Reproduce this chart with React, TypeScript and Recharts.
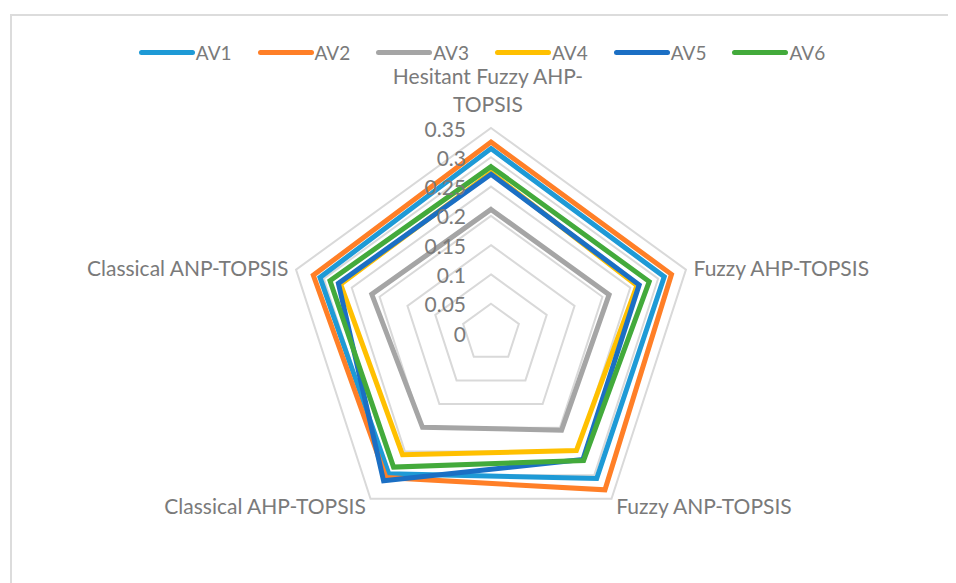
import { RadarChart, Radar, PolarGrid, PolarAngleAxis, PolarRadiusAxis, Legend } from 'recharts';

const categories = [
    'Hesitant Fuzzy AHP-TOPSIS',
    'Fuzzy AHP-TOPSIS',
    'Fuzzy ANP-TOPSIS',
    'Classical AHP-TOPSIS',
    'Classical ANP-TOPSIS',
];

const av1 = [0.315, 0.311, 0.307, 0.297, 0.307];
const av2 = [0.326, 0.324, 0.331, 0.305, 0.319];
const av3 = [0.211, 0.212, 0.205, 0.199, 0.214];
const av4 = [0.274, 0.262, 0.248, 0.257, 0.27];
const av5 = [0.271, 0.266, 0.267, 0.312, 0.274];
const av6 = [0.284, 0.284, 0.269, 0.283, 0.289];

const radiusTicks = [0, 0.05, 0.1, 0.15, 0.2, 0.25, 0.3, 0.35];

const seriesNames = ['AV1', 'AV2', 'AV3', 'AV4', 'AV5', 'AV6'];
const seriesColors = ['#1E9AD6', '#FF7F27', '#A5A5A5', '#FFC000', '#1B6FC4', '#43AA3B'];
const seriesValues = [av1, av2, av3, av4, av5, av6];

const data = categories.map((name, i) => {
    const row: Record<string, string | number> = { subject: name };
    seriesNames.forEach((s, j) => {
        row[s] = seriesValues[j][i];
    });
    return row;
});

const TEXT = '#7a7a7a';
const FONT = 'Lato, "Open Sans", sans-serif';
const OUTER = 205;
const MAX = radiusTicks[radiusTicks.length - 1];

const formatTick = (v: number) => String(Number(v.toFixed(2)));

function RadiusTick(props: any) {
    const { x, y, payload } = props;
    return (
        <text x={x - 25} y={y} textAnchor="end" dominantBaseline="central" fill={TEXT} fontSize={21} fontFamily={FONT}>
            {formatTick(payload.value)}
        </text>
    );
}

function AngleTick(props: any) {
    const { x, y, payload, textAnchor } = props;
    const label: string = payload.value;
    if (label === 'Hesitant Fuzzy AHP-TOPSIS') {
        return (
            <text x={x - 3} textAnchor="middle" fill={TEXT} fontSize={21} fontFamily={FONT}>
                <tspan x={x - 3} y={y - 45} dominantBaseline="central">Hesitant Fuzzy AHP-</tspan>
                <tspan x={x - 3} y={y - 17} dominantBaseline="central">TOPSIS</tspan>
            </text>
        );
    }
    return (
        <text x={x} y={y} textAnchor={textAnchor} dominantBaseline="central" fill={TEXT} fontSize={21} fontFamily={FONT}>
            {label}
        </text>
    );
}

function LegendContent() {
    return (
        <div style={{ display: 'flex', justifyContent: 'center', alignItems: 'center', fontFamily: FONT }}>
            {seriesNames.map((s, i) => (
                <div key={s} style={{ display: 'flex', alignItems: 'center', marginRight: i < seriesNames.length - 1 ? 26 : 0 }}>
                    <span style={{ display: 'inline-block', width: 56, height: 5, borderRadius: 3, background: seriesColors[i] }} />
                    <span style={{ color: TEXT, fontSize: 19, marginLeft: 1 }}>{s}</span>
                </div>
            ))}
        </div>
    );
}

export default function App() {
    return (
        <div style={{ position: 'relative', width: 948, height: 575, overflow: 'hidden' }}>
            <div
                style={{
                    position: 'absolute',
                    left: 2,
                    top: 6,
                    width: 1000,
                    height: 1000,
                    border: '2px solid #dcdcdc',
                    boxSizing: 'border-box',
                }}
            />
            <div style={{ position: 'absolute', left: 0, top: 0 }}>
                <RadarChart
                    width={948}
                    height={575}
                    data={data}
                    cx={483}
                    cy={325}
                    outerRadius={OUTER}
                    style={{ fontFamily: FONT }}
                >
                    <PolarGrid
                        gridType="polygon"
                        radialLines={false}
                        stroke="#d9d9d9"
                        strokeWidth={2}
                        polarRadius={radiusTicks.map((t) => (t / MAX) * OUTER)}
                    />
                    <PolarAngleAxis dataKey="subject" tick={AngleTick} tickLine={false} axisLine={false} />
                    {seriesNames.map((s, i) => (
                        <Radar
                            key={s}
                            name={s}
                            dataKey={s}
                            stroke={seriesColors[i]}
                            strokeWidth={5}
                            fill="none"
                            fillOpacity={0}
                            dot={false}
                            isAnimationActive={false}
                        />
                    ))}
                    <PolarRadiusAxis
                        type="number"
                        scale="linear"
                        angle={90}
                        domain={[0, MAX]}
                        ticks={radiusTicks as any}
                        tickCount={8}
                        axisLine={false}
                        tickLine={false}
                        tick={RadiusTick}
                    />
                    <Legend verticalAlign="top" content={LegendContent} wrapperStyle={{ top: 33, left: 0, width: 948 }} />
                </RadarChart>
            </div>
        </div>
    );
}
